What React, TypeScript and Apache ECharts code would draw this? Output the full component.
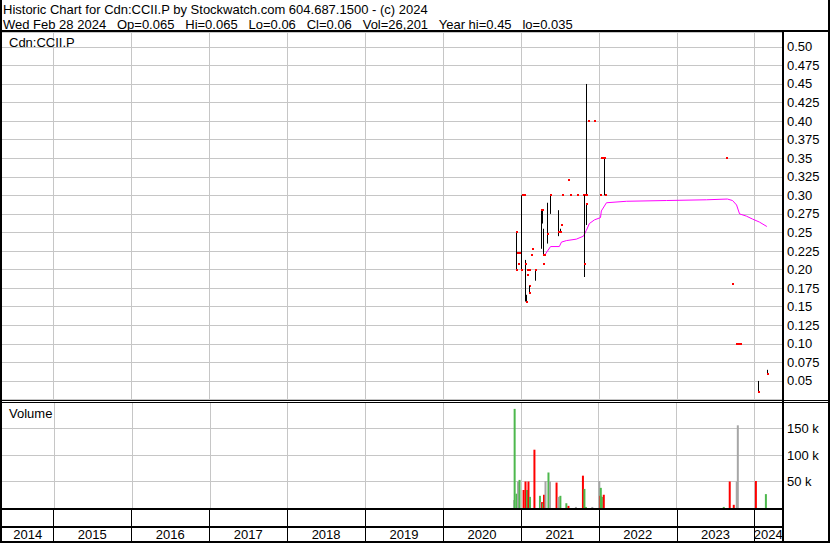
import React, { useEffect, useRef } from 'react';
import * as echarts from 'echarts';

// ---------- texts ----------
const GAP = '\u00a0\u00a0 ';
const headerLine1 = 'Historic Chart for Cdn:CCII.P by Stockwatch.com 604.687.1500 - (c) 2024';
const headerLine2 = ['Wed Feb 28 2024', 'Op=0.065', 'Hi=0.065', 'Lo=0.06', 'Cl=0.06', 'Vol=26,201', 'Year hi=0.45', 'lo=0.035'].join(GAP);
const symbolLabel = 'Cdn:CCII.P';
const volumeLabel = 'Volume';

// ---------- axes ----------
const axisStart = '2014-05-05';
const axisEnd = '2024-05-09';
const years = [2014, 2015, 2016, 2017, 2018, 2019, 2020, 2021, 2022, 2023, 2024];
const priceMin = 0.025;
const priceMax = 0.52;
const priceStep = 0.025;
const volMax = 200000;
const volStep = 50000;

// ---------- daily price bars (high / low / close) ----------
const priceDates = [
  '2020-12-07', '2020-12-10', '2020-12-14', '2020-12-19', '2020-12-23', '2020-12-30',
  '2021-01-04', '2021-01-15', '2021-01-18', '2021-01-27', '2021-01-28', '2021-01-30',
  '2021-02-03', '2021-02-07', '2021-02-09', '2021-02-10', '2021-02-17', '2021-02-22',
  '2021-03-10', '2021-04-07', '2021-04-09', '2021-04-14', '2021-04-16', '2021-04-21',
  '2021-05-03', '2021-05-17', '2021-06-23', '2021-07-02', '2021-07-09', '2021-07-13',
  '2021-08-10', '2021-08-20', '2021-09-20', '2021-10-20', '2021-10-22', '2021-10-29',
  '2021-11-01', '2021-11-03', '2021-11-12', '2021-12-10', '2022-01-07', '2022-01-12',
  '2022-01-14', '2022-01-27', '2022-02-01', '2023-08-21', '2023-09-18', '2023-10-06',
  '2023-10-17', '2023-10-27', '2024-01-18', '2024-02-28',
];
const priceHigh = [
  0.225, 0.25, 0.223, 0.208, 0.223, 0.30,
  0.30, 0.30, 0.213, 0.166, 0.20, 0.193,
  0.20, 0.178, 0.20, 0.178, 0.22, 0.228,
  0.20, 0.28, 0.28, 0.208, 0.255, 0.22,
  0.29, 0.30, 0.28, 0.255, 0.26, 0.30,
  0.32, 0.30, 0.30, 0.30, 0.30, 0.30,
  0.45, 0.289, 0.40, 0.40, 0.30, 0.35,
  0.35, 0.35, 0.30, 0.35, 0.18, 0.10,
  0.10, 0.10, 0.05, 0.065,
];
const priceLow = [
  0.20, 0.225, 0.223, 0.208, 0.223, 0.20,
  0.30, 0.30, 0.157, 0.157, 0.20, 0.193,
  0.20, 0.178, 0.20, 0.168, 0.22, 0.228,
  0.185, 0.228, 0.262, 0.208, 0.22, 0.22,
  0.235, 0.275, 0.245, 0.25, 0.26, 0.30,
  0.32, 0.30, 0.30, 0.30, 0.19, 0.30,
  0.30, 0.26, 0.40, 0.40, 0.30, 0.35,
  0.35, 0.30, 0.30, 0.35, 0.18, 0.10,
  0.10, 0.10, 0.035, 0.06,
];
const priceClose = [
  0.20, 0.25, 0.223, 0.208, 0.223, 0.20,
  0.30, 0.30, 0.208, 0.157, 0.20, 0.193,
  0.20, 0.178, 0.20, 0.169, 0.22, 0.228,
  0.20, 0.28, 0.28, 0.208, 0.22, 0.22,
  0.248, 0.30, 0.25, 0.25, 0.26, 0.30,
  0.32, 0.30, 0.30, 0.30, 0.208, 0.30,
  0.30, 0.289, 0.40, 0.40, 0.30, 0.35,
  0.35, 0.35, 0.30, 0.35, 0.18, 0.10,
  0.10, 0.10, 0.035, 0.06,
];

// ---------- moving average (magenta) ----------
const maDates = [
  '2021-04-26', '2021-05-20', '2021-06-30', '2021-07-10', '2021-08-02', '2021-09-18',
  '2021-10-21', '2021-11-04', '2021-11-18', '2021-12-12', '2022-01-09', '2022-01-13',
  '2022-02-06', '2022-05-11', '2022-11-14', '2023-05-21', '2023-08-27', '2023-09-20',
  '2023-10-09', '2023-10-23', '2023-11-24', '2023-12-23', '2024-01-24', '2024-02-28',
];
const maValues = [
  0.221, 0.231, 0.231, 0.237, 0.239, 0.241,
  0.245, 0.253, 0.262, 0.267, 0.270, 0.279,
  0.290, 0.292, 0.293, 0.294, 0.295, 0.293,
  0.287, 0.275, 0.272, 0.268, 0.264, 0.258,
];

// ---------- volume ----------
const volDates = [
  '2020-12-02', '2020-12-04', '2020-12-13', '2020-12-20', '2020-12-27', '2021-01-15',
  '2021-01-24', '2021-01-31', '2021-02-07', '2021-02-14', '2021-03-07', '2021-04-02',
  '2021-04-07', '2021-04-12', '2021-04-16', '2021-04-21', '2021-04-28', '2021-05-12',
  '2021-05-19', '2021-06-19', '2021-06-28', '2021-07-07', '2021-08-04', '2021-08-14',
  '2021-09-18', '2021-10-21', '2021-10-28', '2021-11-04', '2021-12-04', '2022-01-06',
  '2022-01-11', '2022-01-13', '2022-01-18', '2022-01-27', '2023-08-14', '2023-09-11',
  '2023-09-30', '2023-10-14', '2023-10-19', '2024-01-12', '2024-02-28',
];
const volValues = [
  15000, 187000, 27000, 50000, 53000, 34000,
  50000, 34000, 50000, 21000, 110000, 23000,
  11000, 11000, 9000, 25000, 51000, 67000,
  50000, 48000, 21000, 23000, 9000, 4000,
  2000, 61000, 36000, 2000, 2000, 51000,
  23000, 38000, 21000, 25000, 2000, 50000,
  6000, 50000, 156000, 51000, 26201,
];
const volDir = [
  'flat', 'up', 'up', 'flat', 'up', 'down',
  'down', 'up', 'down', 'up', 'down', 'up',
  'flat', 'down', 'up', 'down', 'flat', 'up',
  'flat', 'down', 'flat', 'up', 'up', 'down',
  'flat', 'down', 'up', 'up', 'flat', 'flat',
  'down', 'up', 'up', 'down', 'up', 'down',
  'down', 'flat', 'flat', 'down', 'up',
];

const dirColor: Record<string, string> = { up: '#4db84d', down: '#ff0000', flat: '#a6a6a6' };
const gridColor = '#c6c6c6';
const FONT = '"Liberation Sans", Arial, sans-serif';

const ts = (d: string) => {
  const [y, m, day] = d.split('-').map(Number);
  return Date.UTC(y, m - 1, day);
};

const priceLabel = (v: number) => {
  const k = Math.round(v / priceStep);
  if (Math.abs(v - k * priceStep) > 1e-6 || k < 2) return '';
  let s = v.toFixed(3);
  if (s.endsWith('0')) s = s.slice(0, -1);
  return s;
};

const volLabel = (v: number) => (v > 0 && v < volMax ? `${Math.round(v / 1000)} k` : '');

const yearLineSeries = (gridIdx: number) => ({
  type: 'custom',
  xAxisIndex: gridIdx,
  yAxisIndex: gridIdx,
  z: 1,
  silent: true,
  data: years.map((y) => [ts(`${y}-01-01`), 0]),
  encode: { x: 0, y: 1 },
  renderItem: (params: any, api: any) => {
    const cs = params.coordSys;
    const x = Math.round(api.coord([api.value(0), api.value(1)])[0]) + 0.5;
    if (x <= cs.x + 1 || x >= cs.x + cs.width) return { type: 'group', children: [] };
    return {
      type: 'line',
      shape: { x1: x, y1: cs.y, x2: x, y2: cs.y + cs.height },
      style: { stroke: gridColor, lineWidth: 1 },
    };
  },
});

export default function App() {
  const ref = useRef<HTMLDivElement>(null);

  useEffect(() => {
    document.body.style.margin = '0';
    const chart = echarts.init(ref.current!, null, { renderer: 'svg' });
    const xMin = ts(axisStart);
    const xMax = ts(axisEnd);

    const option: any = {
      animation: false,
      backgroundColor: '#fff',
      grid: [
        { left: 2, top: 32, width: 780, height: 367.5 },
        { left: 2, top: 402, width: 780, height: 106 },
        { left: 2, top: 510, width: 780, height: 31 },
      ],
      xAxis: [0, 1, 2].map((i) => ({
        type: 'time',
        gridIndex: i,
        min: xMin,
        max: xMax,
        show: false,
      })),
      yAxis: [
        {
          type: 'value',
          gridIndex: 0,
          position: 'right',
          min: priceMin,
          max: priceMax,
          interval: priceStep,
          axisLine: { show: false },
          axisTick: { show: false },
          axisLabel: { margin: 5, fontSize: 13, fontFamily: FONT, color: '#000', formatter: priceLabel },
          splitLine: { show: true, lineStyle: { color: gridColor, width: 1 } },
        },
        {
          type: 'value',
          gridIndex: 1,
          position: 'right',
          min: 0,
          max: volMax,
          interval: volStep,
          axisLine: { show: false },
          axisTick: { show: false },
          axisLabel: { margin: 5, fontSize: 13, fontFamily: FONT, color: '#000', formatter: volLabel },
          splitLine: { show: true, lineStyle: { color: gridColor, width: 1 } },
        },
        { type: 'value', gridIndex: 2, min: 0, max: 1, show: false },
      ],
      series: [
        yearLineSeries(0),
        yearLineSeries(1),
        {
          type: 'line',
          name: 'MA',
          xAxisIndex: 0,
          yAxisIndex: 0,
          z: 2,
          showSymbol: false,
          symbol: 'none',
          data: maDates.map((d, i) => [ts(d), maValues[i]]),
          lineStyle: { color: '#ff00ff', width: 1 },
        },
        {
          type: 'custom',
          name: 'Price',
          xAxisIndex: 0,
          yAxisIndex: 0,
          z: 3,
          data: priceDates.map((d, i) => [ts(d), priceHigh[i], priceLow[i], priceClose[i]]),
          encode: { x: 0, y: [1, 2, 3] },
          renderItem: (params: any, api: any) => {
            const t = api.value(0);
            const hi = api.coord([t, api.value(1)]);
            const lo = api.coord([t, api.value(2)]);
            const cl = api.coord([t, api.value(3)]);
            const x = Math.round(hi[0]);
            const children: any[] = [];
            if (Math.abs(lo[1] - hi[1]) >= 1) {
              children.push({
                type: 'line',
                shape: { x1: x + 0.5, y1: hi[1], x2: x + 0.5, y2: lo[1] },
                style: { stroke: '#000', lineWidth: 1 },
              });
            }
            children.push({
              type: 'rect',
              shape: { x: x, y: Math.round(cl[1]) - 1, width: 2, height: 2 },
              style: { fill: '#ff0000' },
            });
            return { type: 'group', children };
          },
        },
        {
          type: 'bar',
          name: 'Volume',
          xAxisIndex: 1,
          yAxisIndex: 1,
          z: 3,
          barWidth: 2,
          data: volDates.map((d, i) => ({
            value: [ts(d), volValues[i]],
            itemStyle: { color: dirColor[volDir[i]] },
          })),
        },
        {
          type: 'custom',
          name: 'Years',
          xAxisIndex: 2,
          yAxisIndex: 2,
          z: 3,
          data: years.map((y) => [ts(`${y}-01-01`), ts(`${y + 1}-01-01`), y]),
          encode: { x: [0, 1] },
          renderItem: (params: any, api: any) => {
            const cs = params.coordSys;
            const s = api.coord([api.value(0), 0])[0];
            const e = api.coord([api.value(1), 0])[0];
            const l = Math.max(s, cs.x);
            const r = Math.min(e, cs.x + cs.width);
            const children: any[] = [];
            if (s > cs.x + 1 && s < cs.x + cs.width) {
              const xs = Math.round(s) + 0.5;
              children.push({
                type: 'line',
                shape: { x1: xs, y1: cs.y, x2: xs, y2: cs.y + cs.height },
                style: { stroke: '#000', lineWidth: 1 },
              });
            }
            if (r > l) {
              children.push({
                type: 'text',
                x: (l + r) / 2,
                y: cs.y + cs.height - 6.5,
                style: {
                  text: String(api.value(2)),
                  fontSize: 13,
                  fontFamily: FONT,
                  fill: '#000',
                  align: 'center',
                  verticalAlign: 'middle',
                },
              });
            }
            return { type: 'group', children };
          },
        },
      ],
      graphic: [
        { type: 'text', x: 3, y: 9.5, z: 100, style: { text: headerLine1, fontSize: 13, fontFamily: FONT, fill: '#000', verticalAlign: 'middle' } },
        { type: 'text', x: 3, y: 24.5, z: 100, style: { text: headerLine2, fontSize: 13, fontFamily: FONT, fill: '#000', verticalAlign: 'middle' } },
        { type: 'text', x: 9, y: 42, z: 100, style: { text: symbolLabel, fontSize: 13, fontFamily: FONT, fill: '#000', verticalAlign: 'middle' } },
        { type: 'text', x: 9, y: 413, z: 100, style: { text: volumeLabel, fontSize: 13, fontFamily: FONT, fill: '#000', verticalAlign: 'middle' } },
        { type: 'rect', z: 100, shape: { x: 0, y: 0, width: 2, height: 543 }, style: { fill: '#000' } },
        { type: 'rect', z: 100, shape: { x: 828, y: 0, width: 2, height: 543 }, style: { fill: '#000' } },
        { type: 'rect', z: 100, shape: { x: 0, y: 541, width: 830, height: 2 }, style: { fill: '#000' } },
        { type: 'rect', z: 100, shape: { x: 0, y: 30, width: 830, height: 2 }, style: { fill: '#000' } },
        { type: 'rect', z: 100, shape: { x: 782, y: 30, width: 2, height: 513 }, style: { fill: '#000' } },
        { type: 'rect', z: 100, shape: { x: 0, y: 400, width: 830, height: 1 }, style: { fill: '#000' } },
        { type: 'rect', z: 100, shape: { x: 0, y: 402, width: 830, height: 1 }, style: { fill: '#000' } },
        { type: 'rect', z: 100, shape: { x: 0, y: 508, width: 782, height: 2 }, style: { fill: '#000' } },
        { type: 'rect', z: 100, shape: { x: 0, y: 526, width: 782, height: 2 }, style: { fill: '#000' } },
      ],
    };

    chart.setOption(option);
    return () => chart.dispose();
  }, []);

  return (
    <div
      ref={ref}
      style={{ position: 'absolute', left: 0, top: 0, width: 830, height: 543, background: '#fff' }}
    />
  );
}
